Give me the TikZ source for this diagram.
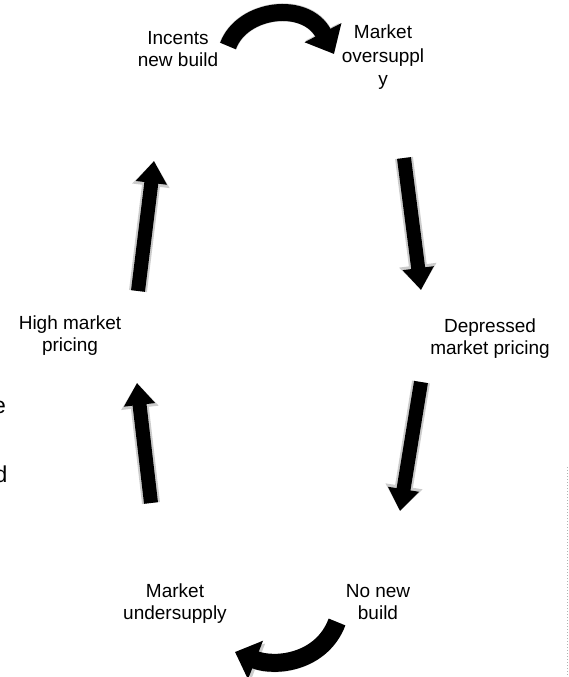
\documentclass[tikz,border=0pt]{standalone}
\usepackage{fontspec}
\setmainfont{Liberation Sans}
\usetikzlibrary{arrows.meta}
\tikzset{
  lbl/.style={anchor=north, inner sep=0pt, align=center, font={\fontsize{19}{22}\selectfont}},
  frag/.style={anchor=base east, inner sep=0pt, font={\fontsize{23}{26}\selectfont}},
  fat/.style={line width=14pt, draw=black, -{Triangle[width=30pt,length=22pt]}},
  halo/.style={line width=18pt, draw=gray!40, -{Triangle[width=36pt,length=25pt]}},
}
\begin{document}
\begin{tikzpicture}[x=1pt,y=-1pt]
\useasboundingbox (0,0) rectangle (568,677);
\fill[white] (0,0) rectangle (568,677);

% labels
\node[lbl] (inc) at (178,31) {Incents\\new build};
\node[lbl, font={\fontsize{19}{23.5}\selectfont}] (over) at (383,25) {Market\\oversuppl\\y};
\node[lbl] (high) at (70,316) {High market\\pricing};
\node[lbl] (dep) at (490,319) {Depressed\\market pricing};
\node[lbl] (under) at (175,584) {Market\\undersupply};
\node[lbl] (nonew) at (378,584) {No new\\build};

% cropped fragments at the left edge
\node[frag] (fe) at (6,413) {e};
\node[frag] (fd) at (7.5,482) {d};

% arrow end points
\coordinate (a1s) at (228,46);
\coordinate (a1e) at (334,54);
\coordinate (a2s) at (404,158);
\coordinate (a2e) at (421,290);
\coordinate (a3s) at (421,382);
\coordinate (a3e) at (400,511);
\coordinate (a4s) at (337,622);
\coordinate (a4e) at (235,652);
\coordinate (a5s) at (151,503);
\coordinate (a5e) at (137,383);
\coordinate (a6s) at (138,291);
\coordinate (a6e) at (154,161);

% halos
\draw[halo] (a1s) .. controls (242,8) and (306,0) .. (a1e);
\draw[halo] (a2s) -- (a2e);
\draw[halo] (a3s) -- (a3e);
\draw[halo] (a4s) .. controls (322,662) and (276,668) .. (a4e);
\draw[halo] (a5s) -- (a5e);
\draw[halo] (a6s) -- (a6e);

% arrows
\draw[fat, line width=17pt, -{Triangle[width=40pt,length=24pt]}] (a1s) .. controls (242,8) and (306,0) .. (a1e);
\draw[fat] (a2s) -- (a2e);
\draw[fat] (a3s) -- (a3e);
\draw[fat, line width=18pt, -{Triangle[width=40pt,length=22pt]}] (a4s) .. controls (322,662) and (276,668) .. (a4e);
\draw[fat] (a5s) -- (a5e);
\draw[fat] (a6s) -- (a6e);

% faint dotted edge at the right
\coordinate (dt) at (567,467);
\coordinate (db) at (567,677);
\draw[gray!60, dotted, line width=1pt] (dt) -- (db);
\end{tikzpicture}
\end{document}
